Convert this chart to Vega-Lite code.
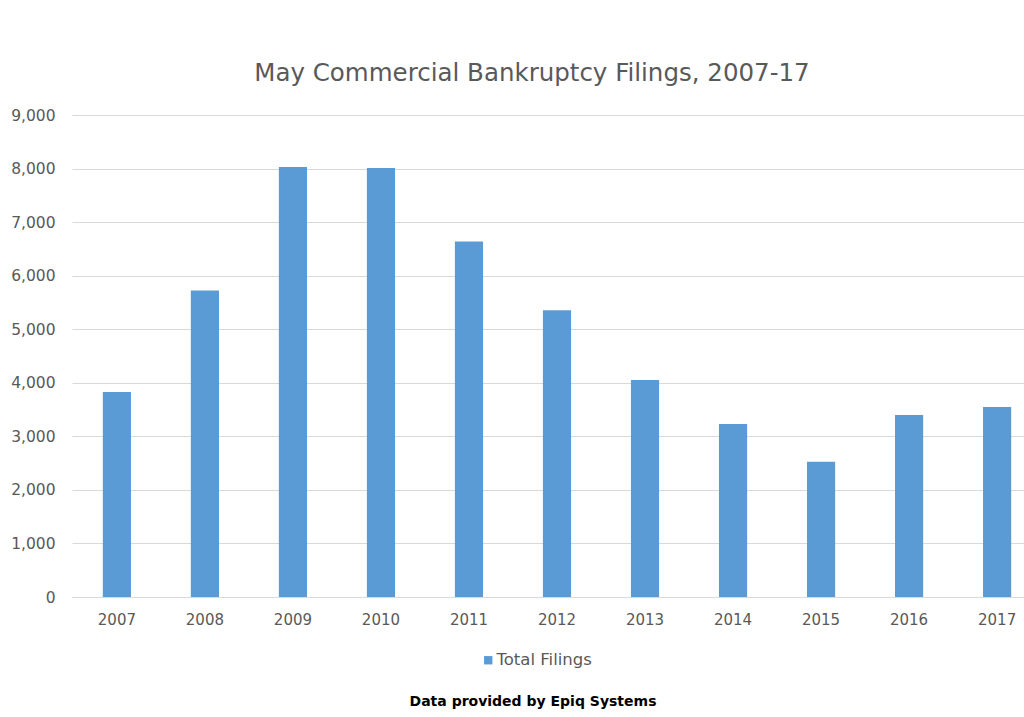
{
  "$schema": "https://vega.github.io/schema/vega-lite/v6.json",
  "autosize": {"type": "none"},
  "padding": {"left": 72, "top": 115, "right": 0, "bottom": 120},
  "width": 970,
  "height": 482,
  "background": "white",
  "title": {
    "text": "May Commercial Bankruptcy Filings, 2007-17",
    "font": "DejaVu Sans",
    "fontSize": 24.5,
    "fontWeight": "normal",
    "color": "#595959",
    "anchor": "middle",
    "dx": -25,
    "offset": 22
  },
  "data": {
    "values": [
      {"year": "2007", "filings": 3827, "series": "Total Filings"},
      {"year": "2008", "filings": 5725, "series": "Total Filings"},
      {"year": "2009", "filings": 8030, "series": "Total Filings"},
      {"year": "2010", "filings": 8010, "series": "Total Filings"},
      {"year": "2011", "filings": 6636, "series": "Total Filings"},
      {"year": "2012", "filings": 5353, "series": "Total Filings"},
      {"year": "2013", "filings": 4051, "series": "Total Filings"},
      {"year": "2014", "filings": 3232, "series": "Total Filings"},
      {"year": "2015", "filings": 2525, "series": "Total Filings"},
      {"year": "2016", "filings": 3399, "series": "Total Filings"},
      {"year": "2017", "filings": 3548, "series": "Total Filings"}
    ]
  },
  "mark": {"type": "bar"},
  "encoding": {
    "x": {
      "field": "year",
      "type": "ordinal",
      "scale": {"paddingInner": 0.68, "paddingOuter": 0.35},
      "axis": {
        "title": null,
        "labelAngle": 0,
        "labelFont": "DejaVu Sans",
        "labelFontSize": 15,
        "labelColor": "#595959",
        "labelPadding": 15,
        "ticks": false,
        "domainColor": "#D9D9D9"
      }
    },
    "y": {
      "field": "filings",
      "type": "quantitative",
      "scale": {"domain": [0, 9000], "nice": false},
      "axis": {
        "title": null,
        "values": [0, 1000, 2000, 3000, 4000, 5000, 6000, 7000, 8000, 9000],
        "format": ",d",
        "labelFont": "DejaVu Sans",
        "labelFontSize": 15.5,
        "labelColor": "#595959",
        "labelPadding": 17,
        "ticks": false,
        "domain": false,
        "gridColor": "#D9D9D9"
      }
    },
    "color": {
      "field": "series",
      "type": "nominal",
      "scale": {"range": ["#5B9BD5"]},
      "legend": {
        "title": "Data provided by Epiq Systems",
        "orient": "none",
        "legendX": 338,
        "legendY": 537,
        "direction": "horizontal",
        "titleOrient": "bottom",
        "titleAnchor": "middle",
        "titleFont": "DejaVu Sans",
        "titleFontSize": 14,
        "titleFontWeight": "bold",
        "titleColor": "#000000",
        "titlePadding": 26,
        "titleLimit": 500,
        "labelFont": "DejaVu Sans",
        "labelFontSize": 16.5,
        "labelColor": "#595959",
        "labelLimit": 300,
        "labelOffset": 0,
        "symbolType": "square",
        "symbolSize": 70,
        "symbolStrokeWidth": 0,
        "symbolOffset": 5
      }
    }
  },
  "config": {"view": {"stroke": null}}
}
